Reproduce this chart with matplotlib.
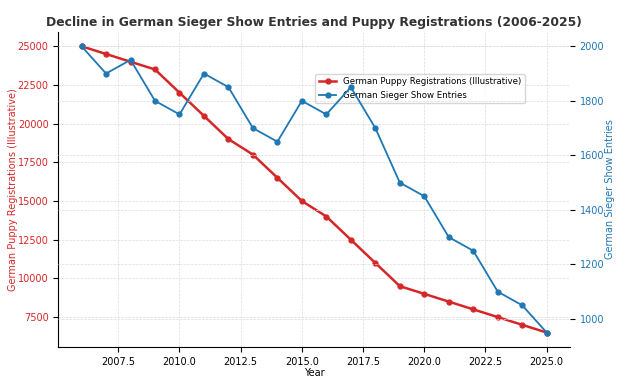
import matplotlib
matplotlib.use('Agg')
import matplotlib.pyplot as plt

years = list(range(2006, 2026))
puppy_regs = [25000, 24500, 24000, 23500, 22000, 20500, 19000, 18000, 16500, 15000,
              14000, 12500, 11000, 9500, 9000, 8500, 8000, 7500, 7000, 6500]
show_entries = [2000, 1900, 1950, 1800, 1750, 1900, 1850, 1700, 1650, 1800,
                1750, 1850, 1700, 1500, 1450, 1300, 1250, 1100, 1050, 950]

red = '#d62728'
blue = '#1f77b4'

fig, ax1 = plt.subplots(figsize=(6.27, 3.85), dpi=100)
fig.subplots_adjust(left=0.093, right=0.909, top=0.917, bottom=0.099)

l1, = ax1.plot(years, puppy_regs, color=red, marker='o', markersize=3.5,
               linewidth=1.8, label='German Puppy Registrations (Illustrative)')
ax1.set_xlabel('Year', fontsize=7, labelpad=1)
ax1.set_ylabel('German Puppy Registrations (Illustrative)', color=red, fontsize=7)
ax1.yaxis.set_label_coords(-0.079, 0.5)
ax1.tick_params(axis='y', labelcolor=red, labelsize=7)
ax1.tick_params(axis='x', labelsize=7)
ax1.grid(True, linestyle='--', linewidth=0.5, color='#dcdcdc')
ax1.spines['top'].set_visible(False)
ax1.spines['right'].set_visible(False)

ax2 = ax1.twinx()
l2, = ax2.plot(years, show_entries, color=blue, marker='o', markersize=3.5,
               linewidth=1.3, label='German Sieger Show Entries')
ax2.set_ylabel('German Sieger Show Entries', color=blue, fontsize=7)
ax2.yaxis.set_label_coords(1.068, 0.5)
ax2.tick_params(axis='y', labelcolor=blue, labelsize=7)
ax2.grid(True, linestyle='--', linewidth=0.5, color='#dcdcdc')
for s in ['top', 'right', 'left', 'bottom']:
    ax2.spines[s].set_visible(False)

ax1.legend([l1, l2], [l1.get_label(), l2.get_label()], loc='upper right',
           bbox_to_anchor=(0.92, 0.88), fontsize=6.2)

ax1.set_title('Decline in German Sieger Show Entries and Puppy Registrations (2006-2025)',
              fontsize=8.9, fontweight='bold', color='#333333', pad=4)

fig.savefig('out.png', dpi=100)
